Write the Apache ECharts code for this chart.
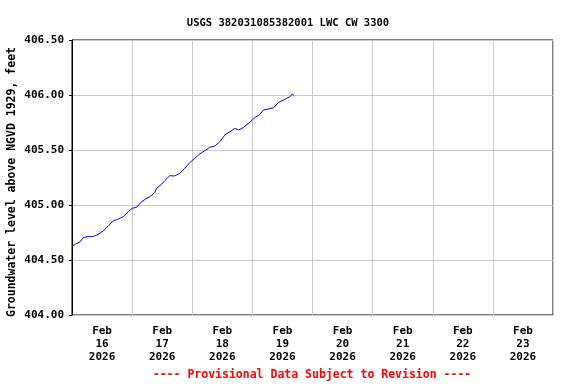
<!DOCTYPE html>
<html>
<head>
<meta charset="utf-8">
<script src="https://cdn.jsdelivr.net/npm/echarts@6/dist/echarts.min.js"></script>
<style>html,body{margin:0;padding:0;background:#fff}#c{width:576px;height:384px}</style>
</head>
<body>
<div id="c"></div>
<script>
const titleText = 'USGS 382031085382001 LWC CW 3300';
const yAxisName = 'Groundwater level above NGVD 1929, feet';
const footnote = '---- Provisional Data Subject to Revision ----';
const dayLabels = ['Feb\n16\n2026','Feb\n17\n2026','Feb\n18\n2026','Feb\n19\n2026','Feb\n20\n2026','Feb\n21\n2026','Feb\n22\n2026','Feb\n23\n2026'];
const startTime = '2026-02-16 00:00';
const times = [
 '2026-02-16 00:00','2026-02-16 02:00','2026-02-16 03:15','2026-02-16 04:30','2026-02-16 06:00','2026-02-16 08:00',
 '2026-02-16 09:15','2026-02-16 10:30','2026-02-16 12:30','2026-02-16 14:30','2026-02-16 16:30','2026-02-16 18:30',
 '2026-02-16 20:30','2026-02-16 22:30','2026-02-17 00:00','2026-02-17 01:45','2026-02-17 03:45','2026-02-17 05:15',
 '2026-02-17 07:00','2026-02-17 09:00','2026-02-17 09:45','2026-02-17 11:45','2026-02-17 13:00','2026-02-17 15:00',
 '2026-02-17 17:00','2026-02-17 19:00','2026-02-17 21:00','2026-02-17 23:00','2026-02-18 01:00','2026-02-18 03:00',
 '2026-02-18 05:00','2026-02-18 07:00','2026-02-18 09:00','2026-02-18 11:00','2026-02-18 13:00','2026-02-18 15:00',
 '2026-02-18 17:00','2026-02-18 18:30','2026-02-18 20:30','2026-02-18 22:45','2026-02-19 01:00','2026-02-19 03:00',
 '2026-02-19 04:30','2026-02-19 06:30','2026-02-19 08:30','2026-02-19 10:30','2026-02-19 12:30','2026-02-19 13:45',
 '2026-02-19 15:00','2026-02-19 16:00','2026-02-19 16:30'
];
const levels = [
 404.625,404.652,404.666,404.703,404.712,404.712,
 404.721,404.734,404.764,404.812,404.855,404.873,
 404.894,404.939,404.970,404.979,405.030,405.052,
 405.075,405.112,405.152,405.188,405.221,405.266,
 405.264,405.288,405.334,405.385,405.425,405.464,
 405.494,405.525,405.536,405.575,405.636,405.666,
 405.697,405.682,405.706,405.748,405.794,405.825,
 405.864,405.873,405.885,405.934,405.955,405.970,
 405.985,406.010,405.995
];
const yTicks = [404.0, 404.5, 405.0, 405.5, 406.0, 406.5];

function toMs(s){ return Date.parse(s.replace(' ','T') + ':00Z'); }
const t0 = toMs(startTime);
const seriesData = times.map((t,i)=>[(toMs(t)-t0)/3600000, levels[i]]);

const FONT = 'DejaVu Sans Mono';
const chart = echarts.init(document.getElementById('c'), null, {renderer:'canvas'});
chart.setOption({
  animation: false,
  backgroundColor: '#fff',
  title: {
    text: titleText, left: 'center', top: 13,
    textStyle: {fontFamily: FONT, fontSize: 10.5, fontWeight: 'bold', color: '#000'}
  },
  graphic: [{
    type: 'text', x: 312, y: 369,
    style: {text: footnote, fill: '#ff0000', font: 'bold 11.5px "DejaVu Sans Mono"', textAlign: 'center'}
  }, {
    type: 'text', x: 12, y: 182, rotation: Math.PI / 2,
    style: {text: yAxisName, fill: '#000', font: 'bold 11.5px "DejaVu Sans Mono"', textAlign: 'center', textVerticalAlign: 'middle'}
  }],
  grid: {left: 72, right: 23, top: 40, bottom: 69, show: true, borderColor: '#000', borderWidth: 1,
    backgroundColor: 'transparent', containLabel: false, outerBoundsMode: 'none'},
  xAxis: [{
    type: 'value', min: 0, max: 192, interval: 24,
    axisLine: {show: false}, axisTick: {show: false}, axisLabel: {show: false},
    splitLine: {show: true, lineStyle: {color: '#c8c8c8', width: 1}}
  }, {
    type: 'category', data: dayLabels, boundaryGap: true, position: 'bottom',
    axisLine: {show: false}, axisTick: {show: false}, splitLine: {show: false},
    axisLabel: {fontFamily: FONT, fontSize: 11, fontWeight: 'bold', color: '#000', lineHeight: 13, margin: 10}
  }],
  yAxis: {
    type: 'value', min: 404, max: 406.5, interval: 0.5,
    axisLine: {show: true, lineStyle: {color: '#000'}},
    axisTick: {show: true, length: 3, lineStyle: {color: '#000'}},
    axisLabel: {fontFamily: FONT, fontSize: 11, fontWeight: 'bold', color: '#000', margin: 8,
      formatter: v => v.toFixed(2)},
    splitLine: {show: true, lineStyle: {color: '#c8c8c8', width: 1}}
  },
  series: [{
    type: 'line', xAxisIndex: 0, data: seriesData, showSymbol: false,
    lineStyle: {color: '#0000ff', width: 1}, itemStyle: {color: '#0000ff'}
  }]
});
</script>
</body>
</html>
